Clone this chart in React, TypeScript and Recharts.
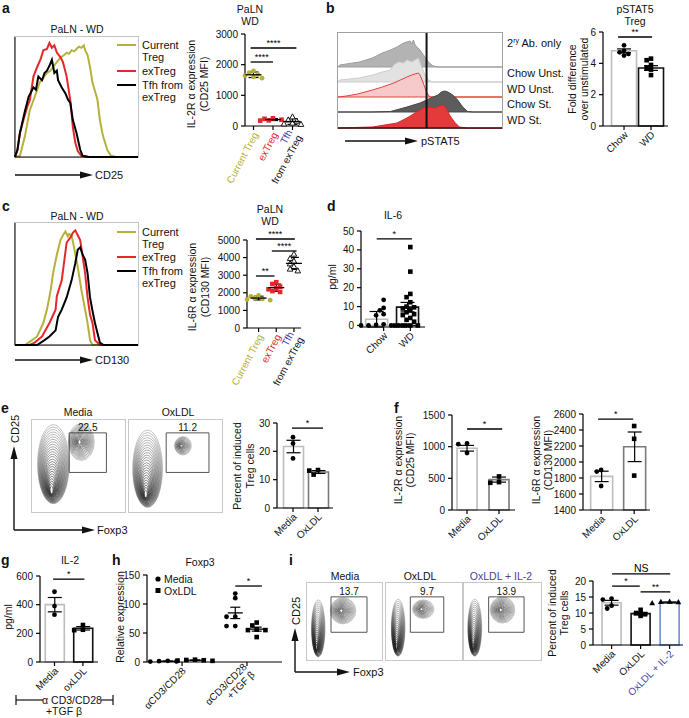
import React from "react";
import {
  ComposedChart,
  LineChart,
  Line,
  AreaChart,
  Area,
  ScatterChart,
  Scatter,
  Bar,
  Cell,
  XAxis,
  YAxis,
  ErrorBar,
  ReferenceLine,
  ReferenceArea,
} from "recharts";

const FONT = "'Liberation Sans', Arial, sans-serif";
const OLIVE = "#b5b23a";
const RED = "#e5262b";
const BLUE = "#3d3c9e";
const PURPLE = "#4b3f9b";
const LIGHT = "#bdbdbd";

const xy = (a: number[][]) => a.map(([x, y]) => ({ x, y }));
const xh = (a: number[][]) => a.map(([x, h]) => ({ x, h }));

// a: CD25 overlay (channel, % of max)
const cd25Current = xy([[0,0],[4,1],[8,17],[12,39],[16,50],[20,62],[23,66],[26,70],[29,72],[31,75],[34,79],[37,83],[40,85],[42,87],[44,86],[46,89],[48,88],[50,90],[52,92],[54,91],[56,93],[57,89],[59,85],[61,75],[63,62],[65,55],[67,48],[69,31],[71,20],[72,16],[75,6],[78,1],[82,0],[100,0]]);
const cd25ExTreg = xy([[0,0],[2,6],[4,20],[8,35],[10,42],[12,47],[15,67],[18,75],[21,82],[23,89],[26,90],[28,95],[30,91],[32,93],[34,87],[37,83],[39,79],[42,67],[45,47],[47,25],[49,12],[51,5],[54,1],[60,0],[100,0]]);
const cd25Tfh = xy([[0,0],[2,6],[4,20],[8,38],[11,50],[13,54],[15,58],[17,56],[19,67],[22,64],[24,70],[26,72],[28,76],[30,81],[32,70],[34,72],[35,64],[38,58],[41,53],[43,48],[45,45],[47,31],[50,20],[53,6],[55,1],[60,0],[100,0]]);

// c: CD130 overlay
const cd130Current = xy([[0,0],[8,0],[11,2],[18,7],[23,18],[26,29],[29,45],[31,59],[34,74],[37,86],[39,90],[41,93],[43,89],[44,91],[46,90],[48,80],[51,64],[54,45],[57,29],[59,18],[61,4],[63,0],[100,0]]);
const cd130ExTreg = xy([[0,0],[12,0],[16,2],[22,7],[28,18],[33,29],[34,40],[38,53],[42,84],[45,88],[47,92],[49,94],[51,90],[53,86],[57,59],[59,39],[61,25],[63,18],[65,4],[69,0],[100,0]]);
const cd130Tfh = xy([[0,0],[18,0],[24,4],[28,7],[33,12],[35,23],[38,29],[42,39],[46,53],[49,67],[51,78],[53,80],[55,74],[57,70],[59,59],[61,39],[63,28],[65,18],[69,2],[72,0],[100,0]]);

// b: pSTAT5 histograms (channel, height)
const pstatAb2 = xh([[0,0],[1,2],[13,5],[21,9],[27,14],[32,17],[36,20],[40,24],[42,25],[44,26],[45,23],[46,27],[47,22],[50,17],[53,10],[55,5],[58,1],[62,0],[100,0]]);
const pstatChowUn = xh([[0,0],[1,2],[13,4],[21,7],[27,10],[32,12],[34,17],[37,20],[40,19],[42,22],[45,20],[47,22],[49,24],[51,15],[53,7],[55,2],[58,0],[100,0]]);
const pstatWdUn = xh([[0,0],[5,1],[12,3],[21,7],[27,10],[34,14],[38,17],[42,20],[45,22],[49,24],[50,22],[52,14],[54,5],[56,0],[100,0]]);
const pstatChowSt = xh([[0,0],[20,0],[32,0.5],[42,5],[50,9],[54,12],[58,15],[61,17],[63,20],[65,21],[67,20],[70,17],[73,12],[76,5],[79,0.5],[82,0],[100,0]]);
const pstatWdSt = xh([[0,0],[10,0.5],[21,1],[36,5],[42,10],[47,15],[52,20],[55,21],[59,20],[62,22],[64,23],[66,20],[68,13],[71,6],[74,1],[79,0],[100,0]]);
const pstatCut = 54;

// a right: IL-2Ra (CD25 MFI)
const aCurrent = [1800, 1740, 1680, 1640, 1600, 1560];
const aExTreg = [250, 235, 205, 185, 175];
const aTfh = [300, 200, 160, 95, 70, 55];
// b right: pSTAT5 fold over unstimulated
const bChow = [5.15, 4.8, 4.7, 4.6, 4.5];
const bWD = [4.3, 4.2, 3.9, 3.7, 3.6, 3.25];
const bMean = [4.8, 3.7];
const bSem = [0.12, 0.15];
// c right: IL-6Ra (CD130 MFI)
const cCurrent = [1850, 1800, 1700, 1650, 1620, 1580];
const cExTreg = [2600, 2500, 2350, 2250, 2200, 2100, 2050];
const cTfh = [4200, 3950, 3800, 3650, 3500, 3350, 3250];
// d: IL-6 pg/ml
const dChow = [13.6, 9.3, 8, 6, 5.4, 0.6, 0.3, 0, 0, 0, 0, 0];
const dWD = [41.5, 28.5, 16.7, 15, 12.3, 10, 9.6, 9, 8, 7, 6, 5.5, 4, 3, 2, 0, 0, 0, 0];
const dMean = [3.3, 9.7];
const dSem = [4.1, 2.5];
// e: percent induced Treg
const eMedia = [25, 22.8, 17.5];
const eOx = [13.4, 13.2, 11.8];
const eMean = [21.7, 12.7];
const eSem = [2.2, 0.5];
// f: MFI
const fCd25Media = [1050, 1040, 900];
const fCd25Ox = [530, 440, 430];
const fCd25Mean = [975, 480];
const fCd25Sem = [45, 40];
const fCd130Media = [1900, 1880, 1700];
const fCd130Ox = [2450, 2290, 1830];
const fCd130Mean = [1820, 2190];
const fCd130Sem = [65, 185];
// g: IL-2 pg/ml
const gMedia = [490, 390, 330];
const gOx = [258, 225, 222];
const gMean = [400, 235];
const gSem = [50, 12];
// h: Foxp3 relative expression
const hMediaA = [2, 1.5, 1, 0.8];
const hOxA = [4, 3.5, 3, 2.5, 2];
const hMediaT = [118, 110, 78, 78, 62, 62];
const hOxT = [68, 63, 56, 55, 55, 43];
// i: percent induced Treg
const iMedia = [14.5, 14.2, 12.3, 11.4];
const iOx = [11, 10, 9.6, 9.1];
const iIl2 = [13.6, 13.5, 13.4, 13.1];
const iMean = [13.2, 9.8, 13.3];
const iSem = [0.75, 0.4, 0.15];

// flow populations: centre (Foxp3, CD25) and spread, axis units 0-100
const eMediaPops = [{ fx: 23, cd25: 52, sx: 17, sy: 43 }, { fx: 53, cd25: 76, sx: 14, sy: 20 }];
const eOxPops = [{ fx: 20, cd25: 47, sx: 16, sy: 42 }, { fx: 58, cd25: 72, sx: 9, sy: 10 }];
const iMediaPops = [{ fx: 15, cd25: 41, sx: 9, sy: 37 }, { fx: 48, cd25: 64, sx: 17, sy: 17 }];
const iOxPops = [{ fx: 16, cd25: 42, sx: 9, sy: 37 }, { fx: 49, cd25: 66, sx: 14, sy: 12 }];
const iIl2Pops = [{ fx: 14, cd25: 42, sx: 9, sy: 37 }, { fx: 50, cd25: 65, sx: 16, sy: 17 }];
const eGates = [{ x1: 40, x2: 80, y1: 43, y2: 86, pct: "22.5" }, { x1: 40, x2: 86, y1: 43, y2: 86, pct: "11.2" }];
const iGates = [{ x1: 32, x2: 80, y1: 36, y2: 82, pct: "13.7" }, { x1: 32, x2: 76, y1: 36, y2: 82, pct: "9.7" }, { x1: 32, x2: 78, y1: 36, y2: 82, pct: "13.9" }];

function FlowHist({ left, top, w, h, series }: any) {
  return (
    <div style={{ position: "absolute", left: left - 5, top }}>
      <div style={{ position: "absolute", left: 5, top: 0, width: w, height: h, outline: "1px solid #c4c4c4" }} />
      <LineChart width={w + 5} height={h + 5} margin={{ top: 0, right: 0, bottom: 0, left: 0 }}>
        <XAxis type="number" dataKey="x" domain={[0, 100]} ticks={[4, 9, 13, 16, 18, 20, 22, 24, 26, 28, 30, 52, 74, 96]} tick={false} tickSize={3} height={5} stroke="#000" interval={0} />
        <YAxis type="number" domain={[0, 100]} ticks={[29, 58, 87]} tick={false} tickSize={3} width={5} stroke="#000" interval={0} />
        {series.map((s: any) => (
          <Line key={s.name} data={s.data} dataKey="y" stroke={s.color} strokeWidth={2} dot={false} isAnimationActive={false} type="linear" />
        ))}
      </LineChart>
    </div>
  );
}

function Ridge() {
  const left = 338, top = 33, w = 164, h = 95;
  const rows = [
    { name: "ab2", data: pstatAb2, base: 61, fill: "#b3b3b3", stroke: "#9d9d9d" },
    { name: "chowUn", data: pstatChowUn, base: 46, fill: "#e2e2e2", stroke: "#cdcdcd" },
    { name: "wdUn", data: pstatWdUn, base: 31, fill: "#f6caca", stroke: "#e8403c" },
    { name: "chowSt", data: pstatChowSt, base: 16, fill: "#5c5c5c", stroke: "#474747" },
    { name: "wdSt", data: pstatWdSt, base: 0, fill: "#e33b3b", stroke: "#d22a2a" },
  ];
  return (
    <div style={{ position: "absolute", left: left - 5, top }}>
      <div style={{ position: "absolute", left: 5, top: 0, width: w, height: h, outline: "1px solid #a0a0a0" }} />
      {rows.map((r, i) => (
        <div key={r.name} style={{ position: "absolute", left: 0, top: 0 }}>
          <AreaChart width={w + 5} height={h + 5} data={r.data} margin={{ top: 0, right: 0, bottom: 0, left: 0 }}>
            <XAxis type="number" dataKey="x" domain={[0, 100]} ticks={[3, 8, 12, 15, 17, 19, 21, 23, 25, 27, 29, 50, 75, 98]} tick={false} tickSize={3} height={5} stroke="#000" axisLine={i === 4} tickLine={i === 4} interval={0} />
            <YAxis type="number" domain={[0, 95]} width={5} tick={false} axisLine={false} tickLine={false} />
            <Area type="linear" dataKey={(d: any) => [r.base, r.base + d.h]} fill={r.fill} fillOpacity={1} stroke={r.stroke} strokeWidth={1} isAnimationActive={false} dot={false} activeDot={false} />
            {i === 4 && <ReferenceLine x={pstatCut} stroke="#111" strokeWidth={2} />}
          </AreaChart>
        </div>
      ))}
    </div>
  );
}

function Contour({ left, top, w, h, pops, gate }: any) {
  const kx = w / 100, ky = h / 100;
  const rings = (p: any) => {
    const b = p.payload;
    if (p.cx == null) return null;
    const n = Math.round(b.sy / 2.2) + 6;
    const sink = b.sy > 25 ? b.sy * 0.72 : 0;
    const out = [];
    for (let i = 0; i < n; i++) {
      const s = 1 - (i / n) * 0.94;
      out.push(
        <ellipse key={i} cx={p.cx - (1 - s) * 2} cy={p.cy + sink * ky * (1 - s)} rx={b.sx * kx * s} ry={b.sy * ky * s}
          fill="none" stroke="#222" strokeOpacity={0.4 + (0.6 * i) / n} strokeWidth={0.65} />
      );
    }
    return <g>{out}</g>;
  };
  return (
    <div style={{ position: "absolute", left, top, width: w, height: h, outline: "1px solid #c8c8c8" }}>
      <ScatterChart width={w} height={h} margin={{ top: 0, right: 0, bottom: 0, left: 0 }}>
        <XAxis type="number" dataKey="fx" domain={[0, 100]} ticks={[4, 9, 12, 15, 18, 40, 65, 90]} tick={false} tickSize={2} height={0} mirror axisLine={false} stroke="#000" interval={0} />
        <YAxis type="number" dataKey="cd25" domain={[0, 100]} ticks={[6, 10, 14, 18, 40, 65, 90]} tick={false} tickSize={2} width={0} mirror axisLine={false} stroke="#000" interval={0} />
        <Scatter data={pops} shape={rings} isAnimationActive={false} />
        <ReferenceArea x1={gate.x1} x2={gate.x2} y1={gate.y1} y2={gate.y2} fill="none" fillOpacity={0} stroke="#555" strokeWidth={1}
          ifOverflow="visible" label={{ value: gate.pct, position: "top", fontSize: 10, fill: "#111", offset: 2 }} />
      </ScatterChart>
    </div>
  );
}

function Mark({ cx, cy, shape, color }: any) {
  if (cx == null || cy == null) return null;
  if (shape === "square") return <rect x={cx - 2.3} y={cy - 2.3} width={4.6} height={4.6} fill={color} />;
  if (shape === "triangle")
    return <polygon points={`${cx},${cy - 3} ${cx - 2.9},${cy + 2.2} ${cx + 2.9},${cy + 2.2}`} fill={color} />;
  if (shape === "otriangle")
    return <polygon points={`${cx},${cy - 3} ${cx - 2.8},${cy + 2.1} ${cx + 2.8},${cy + 2.1}`} fill="#fff" stroke={color} strokeWidth={0.9} />;
  return <circle cx={cx} cy={cy} r={2.4} fill={color} />;
}

function swarm(vals: number[], pxY: number, unitPx: number) {
  const placed: { x: number; y: number }[] = [];
  const d = 4.6;
  return vals.map((v) => {
    const y = v * pxY;
    for (let k = 0; k < 24; k++) {
      const off = (k % 2 === 1 ? -1 : 1) * Math.ceil(k / 2) * d * 0.95;
      if (placed.every((q) => Math.hypot(q.x - off, q.y - y) >= d)) {
        placed.push({ x: off, y });
        return off / unitPx;
      }
    }
    return 0;
  });
}

function RotTick(props: any) {
  const { x, y, payload, cats, angle } = props;
  const c = cats.find((k: any) => Math.abs(k.pos - payload.value) < 1e-6);
  if (!c) return null;
  const n = c.label.length;
  return (
    <g transform={`translate(${x + 2},${y + 1})`}>
      <text transform={`rotate(${angle})`} textAnchor="end" fontSize={10} fontFamily={FONT}>
        {c.label.map(([t, col]: string[], i: number) => (
          <tspan key={i} x={0} dy={i === 0 ? `${0.35 - (n - 1) * 0.55}em` : "1.1em"} fill={col}>
            {t}
          </tspan>
        ))}
      </text>
    </g>
  );
}

function StatPlot(p: any) {
  const YW = 44, TOP = 26, RIGHT = 8, XH = 74;
  const unitPx = p.w / (p.xDomain[1] - p.xDomain[0]);
  const pxY = p.h / (p.yDomain[1] - p.yDomain[0]);
  const rows = p.groups.map((g: any) => {
    const m = g.vals.reduce((s: number, v: number) => s + v, 0) / g.vals.length;
    const sd = Math.sqrt(g.vals.reduce((s: number, v: number) => s + (v - m) ** 2, 0) / (g.vals.length - 1));
    return { pos: g.pos, mean: g.mean ?? m, err: g.err ?? (p.sem ? sd / Math.sqrt(g.vals.length) : sd) };
  });
  const meanW = p.meanW ?? 16;
  return (
    <div style={{ position: "absolute", left: p.axisX - YW, top: p.topY - TOP }}>
      <ComposedChart width={YW + p.w + RIGHT} height={TOP + p.h + XH} data={rows} margin={{ top: TOP, right: RIGHT, bottom: 0, left: 0 }}>
        <XAxis type="number" dataKey="pos" domain={p.xDomain} ticks={p.cats.map((c: any) => c.pos)} interval={0} height={XH}
          tickSize={4} stroke="#000" strokeWidth={1.2} tick={(tp: any) => <RotTick {...tp} cats={p.cats} angle={p.angle} />} />
        <XAxis xAxisId="bars" type="number" dataKey="pos" domain={p.xDomain} hide />
        <YAxis type="number" domain={p.yDomain} ticks={p.yTicks} interval={0} width={YW} tickSize={4} tickMargin={3}
          stroke="#000" strokeWidth={1.2} tick={{ fontSize: 10, fill: "#111" }} />
        {p.bars && (
          <Bar xAxisId="bars" dataKey="mean" barSize={p.barSize} isAnimationActive={false} fill="#fff" strokeWidth={1.6}>
            {p.groups.map((g: any, i: number) => (
              <Cell key={i} stroke={g.bar} fill="#fff" />
            ))}
            <ErrorBar dataKey="err" width={7} stroke="#000" strokeWidth={1.2} direction="y" />
          </Bar>
        )}
        {p.groups.map((g: any, gi: number) => {
          const offs = swarm(g.vals, pxY, unitPx);
          const data = g.vals.map((v: number, k: number) => ({ pos: g.pos + offs[k], v }));
          return (
            <Scatter key={gi} data={data} dataKey="v" isAnimationActive={false}
              shape={(sp: any) => <Mark cx={sp.cx} cy={sp.cy} shape={g.shape} color={g.color} />} />
          );
        })}
        {!p.bars && (
          <Scatter data={rows} dataKey="mean" isAnimationActive={false}
            shape={(sp: any) => (sp.cx == null ? null : <line x1={sp.cx - meanW / 2} x2={sp.cx + meanW / 2} y1={sp.cy} y2={sp.cy} stroke="#000" strokeWidth={1.3} />)}>
            <ErrorBar dataKey="err" direction="y" width={5} stroke="#000" strokeWidth={1.2} />
          </Scatter>
        )}
        {p.sigs.map((s: any, i: number) => (
          <ReferenceLine key={i} segment={[{ x: s.x1, y: s.y }, { x: s.x2, y: s.y }]} stroke="#000" strokeWidth={1.3} ifOverflow="visible"
            label={{ value: s.text, position: "top", fontSize: s.text === "NS" ? 10.5 : 9, fill: "#000", offset: 2 }} />
        ))}
      </ComposedChart>
    </div>
  );
}

const T = ({ x, y, children, a = "start", s = 10.5, c = "#111", b = false }: any) => (
  <text x={x} y={y} textAnchor={a} fontSize={s} fill={c} fontWeight={b ? 700 : 400} fontFamily={FONT}>
    {children}
  </text>
);
const VT = ({ x, y, children, s = 10.5 }: any) => (
  <text x={x} y={y} transform={`rotate(-90 ${x} ${y})`} textAnchor="middle" fontSize={s} fill="#111" fontFamily={FONT}>
    {children}
  </text>
);
const HArrow = ({ x1, x2, y }: any) => (
  <g>
    <line x1={x1} y1={y} x2={x2 - 10} y2={y} stroke="#111" strokeWidth={1.4} />
    <polygon points={`${x2 - 13},${y - 3.5} ${x2},${y} ${x2 - 13},${y + 3.5}`} fill="#111" />
  </g>
);
const VArrow = ({ x, y1, y2 }: any) => (
  <g>
    <line x1={x} y1={y1} x2={x} y2={y2 + 10} stroke="#111" strokeWidth={1.4} />
    <polygon points={`${x - 3.5},${y2 + 13} ${x},${y2} ${x + 3.5},${y2 + 13}`} fill="#111" />
  </g>
);
const LegLine = ({ y, c }: any) => <line x1={117} x2={136} y1={y} y2={y} stroke={c} strokeWidth={2} />;

export default function App() {
  const cdCats = [
    { pos: 0, label: [["Current Treg", OLIVE]] },
    { pos: 1, label: [["exTreg", RED]] },
    { pos: 2, label: [["Tfh", BLUE], ["from exTreg", "#111"]] },
  ];
  const two = (a: string, b: string, cb = "#111") => [
    { pos: 0, label: [[a, "#111"]] },
    { pos: 1, label: [[b, cb]] },
  ];
  return (
    <div style={{ position: "absolute", left: 0, top: 0, width: 689, height: 718, background: "#fff", fontFamily: FONT, overflow: "hidden" }}>
      <FlowHist left={15} top={37} w={123} h={120} series={[
        { name: "cur", data: cd25Current, color: OLIVE },
        { name: "ex", data: cd25ExTreg, color: RED },
        { name: "tfh", data: cd25Tfh, color: "#000" },
      ]} />
      <FlowHist left={15} top={223} w={123} h={122} series={[
        { name: "cur", data: cd130Current, color: OLIVE },
        { name: "ex", data: cd130ExTreg, color: RED },
        { name: "tfh", data: cd130Tfh, color: "#000" },
      ]} />
      <Ridge />
      <Contour left={32} top={420} w={93} h={92} pops={eMediaPops} gate={eGates[0]} />
      <Contour left={129} top={420} w={93} h={92} pops={eOxPops} gate={eGates[1]} />
      <Contour left={307} top={583} w={75} h={77} pops={iMediaPops} gate={iGates[0]} />
      <Contour left={386} top={583} w={76} h={77} pops={iOxPops} gate={iGates[1]} />
      <Contour left={464} top={583} w={77} h={77} pops={iIl2Pops} gate={iGates[2]} />

      <StatPlot axisX={245} topY={34} w={56} h={92} xDomain={[-0.4, 2.4]} yDomain={[0, 3000]} yTicks={[0, 1000, 2000, 3000]}
        angle={-62} cats={cdCats} groups={[
          { pos: 0, vals: aCurrent, shape: "circle", color: OLIVE },
          { pos: 1, vals: aExTreg, shape: "square", color: RED },
          { pos: 2, vals: aTfh, shape: "otriangle", color: "#000" },
        ]} sigs={[{ x1: -0.15, x2: 2.2, y: 2543, text: "****" }, { x1: -0.15, x2: 1.0, y: 2087, text: "****" }]} />
      <StatPlot axisX={247} topY={240} w={54} h={88} xDomain={[-0.3, 2.4]} yDomain={[0, 5000]} yTicks={[0, 1000, 2000, 3000, 4000, 5000]}
        angle={-62} cats={cdCats} groups={[
          { pos: 0, vals: cCurrent, shape: "circle", color: OLIVE },
          { pos: 1, vals: cExTreg, shape: "square", color: RED },
          { pos: 2, vals: cTfh, shape: "otriangle", color: "#000" },
        ]} sigs={[
          { x1: -0.15, x2: 2.05, y: 5057, text: "****" },
          { x1: 0.75, x2: 2.15, y: 4375, text: "****" },
          { x1: -0.15, x2: 0.9, y: 2955, text: "**" },
        ]} />
      <StatPlot axisX={603} topY={32} w={65} h={94} xDomain={[-0.78, 1.63]} yDomain={[0, 6]} yTicks={[0, 2, 4, 6]} bars barSize={25}
        angle={-45} cats={two("Chow", "WD")} groups={[
          { pos: 0, vals: bChow, shape: "circle", color: "#000", mean: bMean[0], err: bSem[0], bar: LIGHT },
          { pos: 1, vals: bWD, shape: "square", color: "#000", mean: bMean[1], err: bSem[1], bar: "#111" },
        ]} sigs={[{ x1: -0.22, x2: 1.04, y: 5.68, text: "**" }]} />
      <StatPlot axisX={361} topY={231} w={64} h={96} xDomain={[-0.52, 1.55]} yDomain={[0, 50]} yTicks={[0, 10, 20, 30, 40, 50]} bars barSize={22}
        angle={-45} cats={two("Chow", "WD")} groups={[
          { pos: 0, vals: dChow, shape: "circle", color: "#000", mean: dMean[0], err: dSem[0], bar: LIGHT },
          { pos: 1, vals: dWD, shape: "square", color: "#000", mean: dMean[1], err: dSem[1], bar: "#111" },
        ]} sigs={[{ x1: -0.26, x2: 1.06, y: 45.8, text: "*" }]} />
      <StatPlot axisX={277} topY={423} w={56} h={85} xDomain={[-0.64, 1.6]} yDomain={[0, 30]} yTicks={[0, 10, 20, 30]} bars barSize={20}
        angle={-45} cats={two("Media", "OxLDL")} groups={[
          { pos: 0, vals: eMedia, shape: "circle", color: "#000", mean: eMean[0], err: eSem[0], bar: LIGHT },
          { pos: 1, vals: eOx, shape: "square", color: "#000", mean: eMean[1], err: eSem[1], bar: "#7a7a7a" },
        ]} sigs={[{ x1: -0.04, x2: 1.2, y: 28.2, text: "*" }]} />
      <StatPlot axisX={452} topY={415} w={63} h={95} xDomain={[-0.47, 1.5]} yDomain={[0, 1500]} yTicks={[0, 500, 1000, 1500]} bars barSize={20}
        angle={-45} cats={two("Media", "OxLDL")} groups={[
          { pos: 0, vals: fCd25Media, shape: "circle", color: "#000", mean: fCd25Mean[0], err: fCd25Sem[0], bar: LIGHT },
          { pos: 1, vals: fCd25Ox, shape: "square", color: "#000", mean: fCd25Mean[1], err: fCd25Sem[1], bar: "#7a7a7a" },
        ]} sigs={[{ x1: 0, x2: 1.1, y: 1279, text: "*" }]} />
      <StatPlot axisX={583} topY={414} w={67} h={96} xDomain={[-0.55, 1.48]} yDomain={[1400, 2600]} yTicks={[1400, 1600, 1800, 2000, 2200, 2400, 2600]} bars barSize={22}
        angle={-45} cats={two("Media", "OxLDL")} groups={[
          { pos: 0, vals: fCd130Media, shape: "circle", color: "#000", mean: fCd130Mean[0], err: fCd130Sem[0], bar: LIGHT },
          { pos: 1, vals: fCd130Ox, shape: "square", color: "#000", mean: fCd130Mean[1], err: fCd130Sem[1], bar: "#7a7a7a" },
        ]} sigs={[{ x1: -0.09, x2: 0.97, y: 2537, text: "*" }]} />
      <StatPlot axisX={40} topY={576} w={58} h={86} xDomain={[-0.51, 1.53]} yDomain={[0, 600]} yTicks={[0, 200, 400, 600]} bars barSize={19}
        angle={-45} cats={two("Media", "oxLDL")} groups={[
          { pos: 0, vals: gMedia, shape: "circle", color: "#000", mean: gMean[0], err: gSem[0], bar: LIGHT },
          { pos: 1, vals: gOx, shape: "square", color: "#000", mean: gMean[1], err: gSem[1], bar: "#111" },
        ]} sigs={[{ x1: -0.05, x2: 1.05, y: 578, text: "*" }]} />
      <StatPlot axisX={147} topY={575} w={135} h={87} xDomain={[-0.54, 1.54]} yDomain={[0, 150]} yTicks={[0, 50, 100, 150]} sem meanW={15}
        angle={-45} cats={[
          { pos: 0, label: [["\u03b1CD3/CD28", "#111"]] },
          { pos: 1, label: [["\u03b1CD3/CD28", "#111"], ["+TGF \u03b2", "#111"]] },
        ]} groups={[
          { pos: -0.22, vals: hMediaA, shape: "circle", color: "#000" },
          { pos: 0.2, vals: hOxA, shape: "square", color: "#000" },
          { pos: -0.18 + 1, vals: hMediaT, shape: "circle", color: "#000" },
          { pos: 1.15, vals: hOxT, shape: "square", color: "#000" },
        ]} sigs={[{ x1: -0.18 + 1, x2: 1.23, y: 131, text: "*" }]} />
      <StatPlot axisX={593} topY={581} w={90} h={64} xDomain={[-0.64, 2.46]} yDomain={[0, 20]} yTicks={[0, 5, 10, 15, 20]} bars barSize={19}
        angle={-45} cats={[
          { pos: 0, label: [["Media", "#111"]] },
          { pos: 1, label: [["OxLDL", "#111"]] },
          { pos: 2, label: [["OxLDL + IL-2", PURPLE]] },
        ]} groups={[
          { pos: 0, vals: iMedia, shape: "circle", color: "#000", mean: iMean[0], err: iSem[0], bar: LIGHT },
          { pos: 1, vals: iOx, shape: "square", color: "#000", mean: iMean[1], err: iSem[1], bar: "#111" },
          { pos: 2, vals: iIl2, shape: "triangle", color: "#000", mean: iMean[2], err: iSem[2], bar: "#6b8fd6" },
        ]} sigs={[
          { x1: 0.02, x2: 2.02, y: 22.2, text: "NS" },
          { x1: 0.02, x2: 0.97, y: 18.4, text: "*" },
          { x1: 1.0, x2: 2.02, y: 16.6, text: "**" },
        ]} />

      <svg width={689} height={718} style={{ position: "absolute", left: 0, top: 0, pointerEvents: "none" }}>
        {/* panel letters */}
        <T x={2} y={13} s={14} b>a</T>
        <T x={326} y={13} s={14} b>b</T>
        <T x={2} y={211} s={14} b>c</T>
        <T x={327} y={211} s={14} b>d</T>
        <T x={1} y={413} s={14} b>e</T>
        <T x={394} y={413} s={14} b>f</T>
        <T x={1} y={565} s={14} b>g</T>
        <T x={112} y={565} s={14} b>h</T>
        <T x={289} y={565} s={14} b>i</T>

        {/* titles */}
        <T x={77} y={33} a="middle">PaLN - WD</T>
        <T x={250} y={13} a="middle">PaLN</T>
        <T x={250} y={25} a="middle">WD</T>
        <T x={635} y={13} a="middle">pSTAT5</T>
        <T x={635} y={25} a="middle">Treg</T>
        <T x={77} y={220} a="middle">PaLN - WD</T>
        <T x={270} y={213} a="middle">PaLN</T>
        <T x={270} y={225} a="middle">WD</T>
        <T x={393} y={219} a="middle">IL-6</T>
        <T x={78} y={416} a="middle">Media</T>
        <T x={178} y={416} a="middle">OxLDL</T>
        <T x={70} y={564} a="middle">IL-2</T>
        <T x={200} y={566} a="middle">Foxp3</T>
        <T x={345} y={580} a="middle">Media</T>
        <T x={420} y={580} a="middle">OxLDL</T>
        <T x={501} y={580} a="middle" c={PURPLE}>OxLDL + IL-2</T>

        {/* legends a / c */}
        <LegLine y={45} c={OLIVE} />
        <LegLine y={71} c={RED} />
        <LegLine y={85} c="#000" />
        <T x={142} y={49} s={11}>Current</T>
        <T x={142} y={61} s={11}>Treg</T>
        <T x={142} y={75} s={11}>exTreg</T>
        <T x={142} y={89} s={11}>Tfh from</T>
        <T x={142} y={101} s={11}>exTreg</T>
        <LegLine y={232} c={OLIVE} />
        <LegLine y={257} c={RED} />
        <LegLine y={271} c="#000" />
        <T x={142} y={236} s={11}>Current</T>
        <T x={142} y={248} s={11}>Treg</T>
        <T x={142} y={261} s={11}>exTreg</T>
        <T x={142} y={275} s={11}>Tfh from</T>
        <T x={142} y={287} s={11}>exTreg</T>

        {/* b row labels */}
        <text x={507} y={47} fontSize={11} fill="#111" fontFamily={FONT}>
          2<tspan dy={-4} fontSize={7}>ry</tspan>
          <tspan dy={4}> Ab. only</tspan>
        </text>
        <T x={507} y={77} s={11}>Chow Unst.</T>
        <T x={507} y={93} s={11}>WD Unst.</T>
        <T x={507} y={108} s={11}>Chow St.</T>
        <T x={507} y={124} s={11}>WD St.</T>

        {/* axis titles */}
        <VT x={195} y={84}>IL-2R α expression</VT>
        <VT x={208} y={84}>(CD25 MFI)</VT>
        <VT x={576} y={79}>Fold difference</VT>
        <VT x={588} y={79}>over unstimulated</VT>
        <VT x={196} y={287}>IL-6R α expression</VT>
        <VT x={209} y={287}>(CD130 MFI)</VT>
        <VT x={336} y={277}>pg/ml</VT>
        <VT x={241} y={466}>Percent of induced</VT>
        <VT x={254} y={466}>Treg cells</VT>
        <VT x={402} y={460}>IL-2R α expression</VT>
        <VT x={414} y={460}>(CD25 MFI)</VT>
        <VT x={540} y={460}>IL-6R α expression</VT>
        <VT x={552} y={460}>(CD130 MFI)</VT>
        <VT x={12} y={617}>pg/ml</VT>
        <VT x={124} y={617}>Relative expression</VT>
        <VT x={556} y={613}>Percent of induced</VT>
        <VT x={568} y={613}>Treg cells</VT>

        {/* flow axis arrows */}
        <HArrow x1={15} x2={93} y={175} />
        <T x={95} y={179} s={11}>CD25</T>
        <HArrow x1={345} x2={418} y={141} />
        <T x={421} y={145} s={11}>pSTAT5</T>
        <HArrow x1={15} x2={93} y={360} />
        <T x={95} y={364} s={11}>CD130</T>
        <VArrow x={14} y1={530} y2={446} />
        <HArrow x1={14} x2={95} y={530} />
        <text x={19} y={443} transform={`rotate(-90 19 443)`} fontSize={11} fill="#111" fontFamily={FONT}>CD25</text>
        <T x={97} y={534} s={11}>Foxp3</T>
        <VArrow x={295} y1={672} y2={628} />
        <HArrow x1={295} x2={350} y={672} />
        <text x={300} y={625} transform={`rotate(-90 300 625)`} fontSize={11} fill="#111" fontFamily={FONT}>CD25</text>
        <T x={353} y={676} s={11}>Foxp3</T>

        {/* g bracket */}
        <line x1={16} x2={16} y1={695} y2={705} stroke="#111" strokeWidth={1.2} />
        <line x1={16} x2={43} y1={700} y2={700} stroke="#111" strokeWidth={1.2} />
        <T x={72} y={704} a="middle" s={10.5}>α CD3/CD28</T>
        <line x1={101} x2={113} y1={700} y2={700} stroke="#111" strokeWidth={1.2} />
        <line x1={113} x2={113} y1={695} y2={705} stroke="#111" strokeWidth={1.2} />
        <T x={64} y={715} a="middle" s={10.5}>+TGF β</T>

        {/* h legend */}
        <circle cx={158} cy={579} r={2.6} fill="#000" />
        <T x={164} y={583} s={10.5}>Media</T>
        <rect x={155.5} y={588} width={5} height={5} fill="#000" />
        <T x={164} y={595} s={10.5}>OxLDL</T>
      </svg>
    </div>
  );
}
